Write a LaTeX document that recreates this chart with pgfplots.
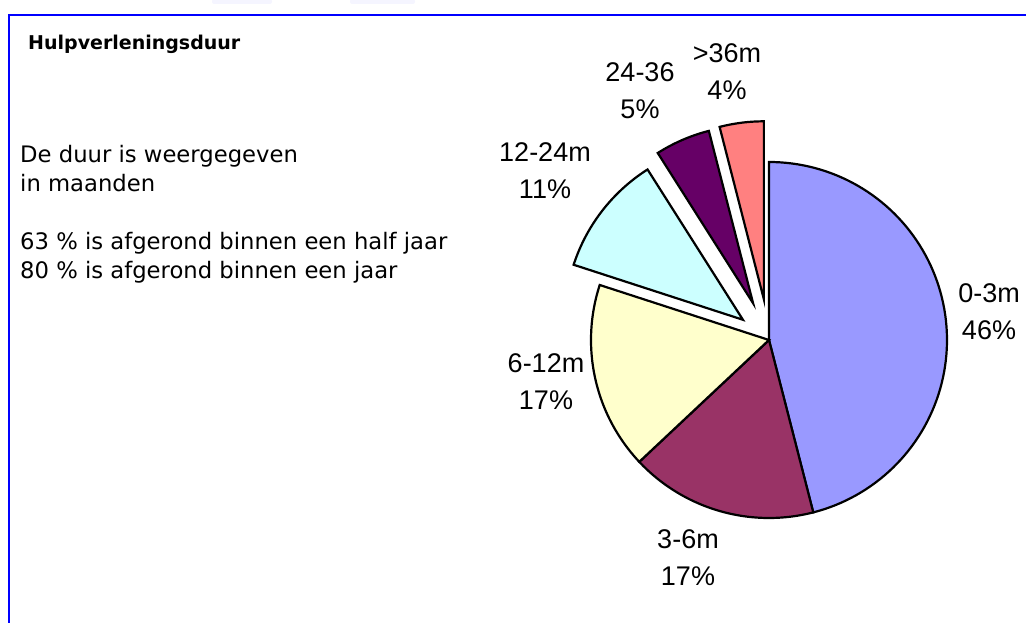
\documentclass[border=0pt]{standalone}
\usepackage{pgfplots}
\pgfplotsset{compat=1.18}
\usepackage{fontspec}
\setmainfont{Liberation Sans}
\newfontfamily\comic{DejaVu Sans}
\definecolor{cA}{HTML}{9999FF}
\definecolor{cB}{HTML}{993366}
\definecolor{cC}{HTML}{FFFFCC}
\definecolor{cD}{HTML}{CCFFFF}
\definecolor{cE}{HTML}{660066}
\definecolor{cF}{HTML}{FF8080}
% slice: #1 colour, #2 start angle (deg), #3 percentage, #4 explosion offset (px)
\newcommand\slice[4]{%
  \addplot[draw=black, line width=2.2pt, fill=#1, domain={#2-3.6*#3}:{#2}, samples=90, variable=\t]
    ({769+#4*cos(#2-1.8*#3)+178*cos(\t)}, {283+#4*sin(#2-1.8*#3)+178*sin(\t)})
    -- (axis cs:{769+#4*cos(#2-1.8*#3)},{283+#4*sin(#2-1.8*#3)}) -- cycle;
}
\newcommand\plab[4]{% x, baseline1 (px from top), line1, line2
  \node[anchor=base, inner sep=0pt, font=\fontsize{27}{32}\selectfont] at (axis cs:#1,{623-#2}) {#3};
  \node[anchor=base, inner sep=0pt, font=\fontsize{27}{32}\selectfont] at (axis cs:#1,{623-#2-36.5}) {#4};
}
\begin{document}
\begin{tikzpicture}
\begin{axis}[scale only axis, width=1026pt, height=623pt,
  xmin=0, xmax=1026, ymin=0, ymax=623, hide axis, clip=false]
% pie: percentages 46, 17, 17, 11, 5, 4 clockwise from 12 o'clock
\slice{cA}{90}{46}{0}
\slice{cB}{-75.6}{17}{0}
\slice{cC}{-136.8}{17}{0}
\slice{cD}{162}{11}{33}
\slice{cE}{122.4}{5}{40}
\slice{cF}{104.4}{4}{41}
% labels
\plab{989}{303}{0-3m}{46\%}
\plab{688}{549}{3-6m}{17\%}
\plab{546}{373}{6-12m}{17\%}
\plab{545}{162}{12-24m}{11\%}
\plab{640}{82}{24-36}{5\%}
\plab{727}{63}{>36m}{4\%}
% frame
\draw[color=blue, line width=2pt] (axis cs:1026,608) -- (axis cs:9,608) -- (axis cs:9,0);
\fill[color=blue!4, rounded corners=2pt] (axis cs:212,624) rectangle (axis cs:272,619);
\fill[color=blue!4, rounded corners=2pt] (axis cs:350,624) rectangle (axis cs:415,619);
% text
\node[anchor=base west, inner sep=0pt, font=\comic\bfseries\fontsize{19}{22}\selectfont] at (axis cs:28,{623-50}) {Hulpverleningsduur};
\node[anchor=base west, inner sep=0pt, font=\comic\fontsize{22.7}{26}\selectfont] at (axis cs:20,{623-163}) {De duur is weergegeven};
\node[anchor=base west, inner sep=0pt, font=\comic\fontsize{22.7}{26}\selectfont] at (axis cs:20,{623-192}) {in maanden};
\node[anchor=base west, inner sep=0pt, font=\comic\fontsize{22.7}{26}\selectfont] at (axis cs:20,{623-250}) {63 \% is afgerond binnen een half jaar};
\node[anchor=base west, inner sep=0pt, font=\comic\fontsize{22.7}{26}\selectfont] at (axis cs:20,{623-279}) {80 \% is afgerond binnen een jaar};
\end{axis}
\pgfresetboundingbox
\path (current axis.south west) rectangle (current axis.north east);
\end{tikzpicture}
\end{document}
